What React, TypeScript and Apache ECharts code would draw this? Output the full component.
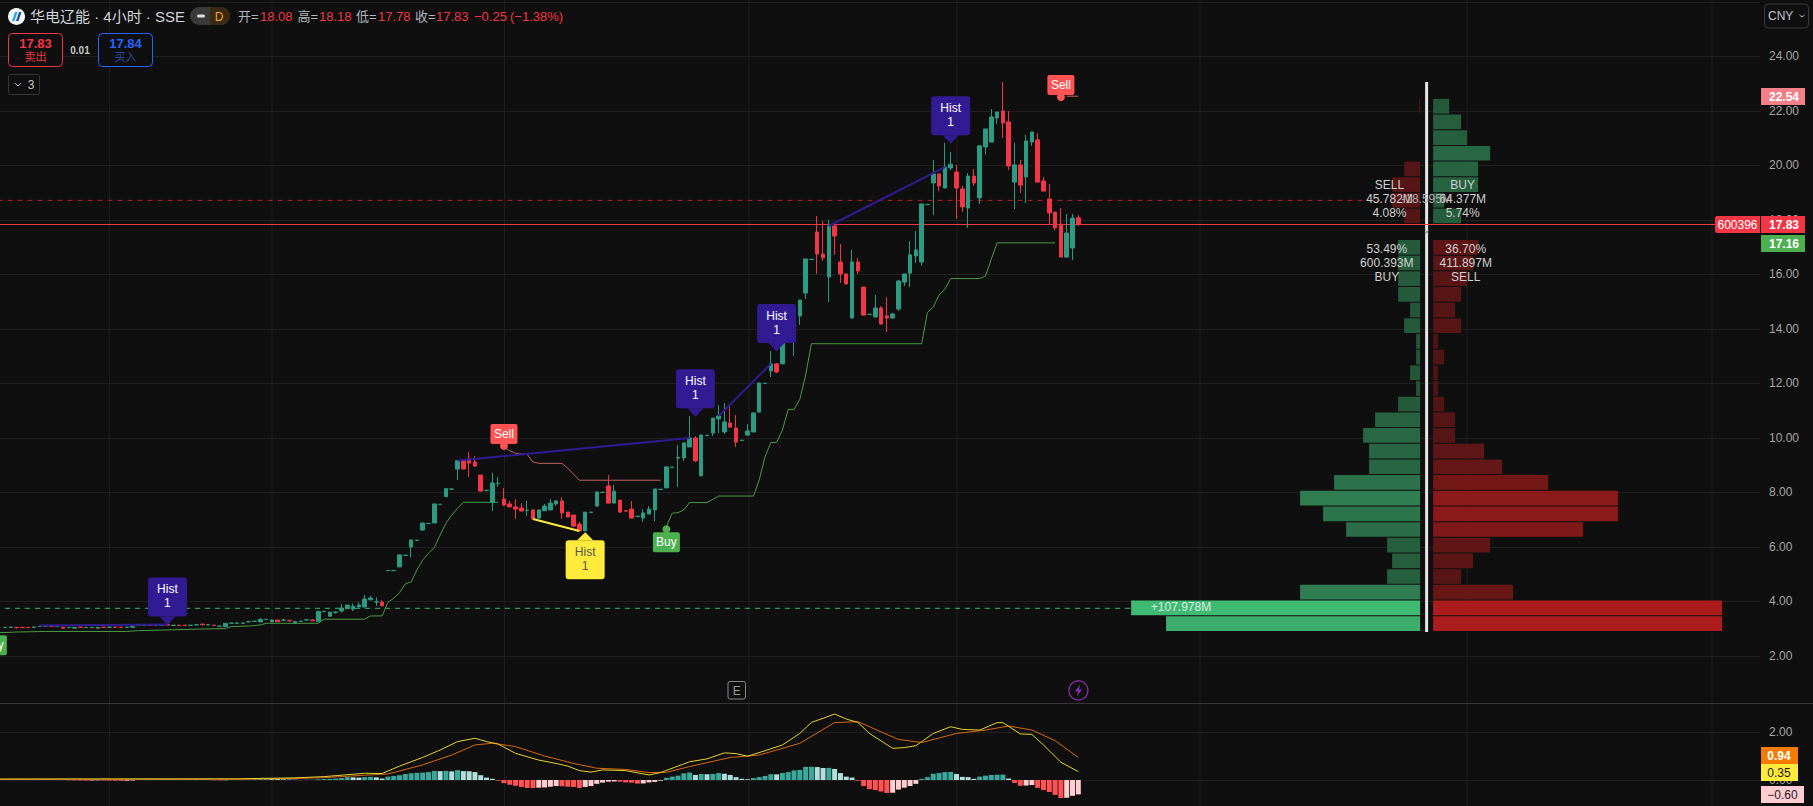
import React, { useEffect, useRef } from "react";
import * as echarts from "echarts";

// [open, close, low, high] (low / high default to the body)
const candleRows: (number | undefined)[][] = [
  [3.04,3.05,,3.06],[3.05,3.06,3.04,3.08],[3.05,3.04,3.00,3.06],[3.05,3.04],[3.05,3.04],[3.05,3.06,,3.09],[3.08,3.09],[3.09,3.10],[3.10,3.08],[3.08,3.09],
  [3.06,3.02],[3.04,3.05],[3.02,3.05],[3.06,3.05],[3.04,3.05],[3.04,3.05],[3.02,3.05],[3.06,3.05],[3.05,3.06,,3.08],[3.06,3.05],
  [3.06,3.05],[3.05,3.06],[3.05,3.09],[3.12,3.13],[3.12,3.13],[3.13,3.12],[3.13,3.14,,3.16],[3.13,3.14],[3.16,3.13],[3.12,3.13],
  [3.13,3.12],[3.13,3.12],[3.12,3.13,,3.14],[3.14,3.15,,3.17],[3.17,3.15,3.12,3.17],[3.14,3.15,,3.17],[3.13,3.12],[3.09,3.10],[3.08,3.20],[3.20,3.21],
  [3.20,3.21,,3.24],[3.20,3.21],[3.25,3.26,,3.29],[3.27,3.28],[3.25,3.35,,3.38],[3.34,3.35],[3.25,3.32,,3.34],[3.32,3.26],[3.31,3.32,3.29,3.37],[3.31,3.29,3.26,3.31],
  [3.21,3.26,3.19,3.30],[3.27,3.28],[3.32,3.33,,3.35],[3.32,3.29,,3.35],[3.27,3.64],[3.63,3.64],[3.46,3.61],[3.60,3.61,3.55,3.64],[3.65,3.76,3.59,3.91],[3.74,3.87],
  [3.72,3.83,3.65,3.93],[3.80,3.87,3.79,3.97],[3.80,4.09,3.79,4.24],[4.06,4.13,4.06,4.21],[3.98,3.99,3.84,4.15],[3.98,3.84,3.83,4.05],[5.13,5.14],[5.13,5.14],[5.27,5.71],[5.69,5.70],
  [6.00,6.26,5.61,6.26],[6.24,6.25],[6.62,6.88],[6.86,6.87],[6.88,7.58],[7.56,7.57],[7.85,8.14],[8.12,8.13],[8.86,9.17,8.46,9.17],[9.17,8.86],
  [9.23,9.08,8.57,9.49],[9.12,8.97,8.94,9.34],[8.64,8.05],[8.07,8.08],[7.63,8.35,7.32,8.72],[8.33,8.34,8.20,8.57],[7.76,7.54,7.50,8.17],[7.58,7.47,7.47,7.69],[7.47,7.39,7.03,7.76],[7.43,7.32,7.32,7.61],
  [7.34,7.35,7.14,7.69],[7.36,7.03],[7.06,7.36,7.03,7.36],[7.33,7.50,,7.58],[7.36,7.61,,7.76],[7.58,7.69,7.50,7.72],[7.69,7.25,7.03,7.83],[7.28,7.10],[7.17,6.77,6.73,7.17],[6.84,6.59,,6.92],
  [6.59,7.28],[7.27,7.28],[7.50,8.02],[8.00,8.01],[8.24,7.61,,8.64],[7.61,8.05,,8.28],[7.72,7.28,7.25,7.72],[7.33,7.32,7.28,7.36],[7.39,7.06,,7.69],[7.12,7.13],
  [7.06,7.25,6.92,7.39],[7.21,7.39,,7.50],[7.36,8.13,6.95,8.13],[8.11,8.12],[8.17,8.94],[8.92,8.93],[9.26,9.28,8.20,9.74],[9.27,9.82,9.16,9.82],[9.67,10.00,,10.81],[10.00,9.16,9.12,10.07],
  [8.61,10.11],[10.09,10.10],[10.18,10.73,10.07,10.73],[10.70,10.81,10.18,11.21],[10.22,10.59,10.15,11.28],[10.55,10.40,10.37,11.14],[10.37,9.85,9.67,10.84],[9.91,9.92],[10.11,10.26,10.07,10.51],[10.22,10.92],
  [10.95,12.02],[12.00,12.01],[12.46,12.72,12.24,13.19],[12.72,12.42,12.39,12.75],[12.72,13.67],[13.65,13.66],[13.93,14.55,13.01,14.88],[14.48,15.06,14.15,15.06],[15.32,16.57,15.10,16.57],[16.55,16.56],
  [17.56,16.75,16.02,18.15],[16.75,16.61,16.50,17.96],[15.91,17.78,14.99,18.00],[17.78,17.41,16.72,17.82],[16.46,16.02,15.69,17.12],[16.02,15.65],[14.40,16.46,,16.90],[16.46,16.13,16.02,16.61],[15.54,14.51],[14.53,14.54],
  [14.44,14.77,,15.25],[14.77,14.18,,14.84],[14.48,14.40,13.89,15.17],[14.40,14.55,,14.59],[14.73,15.76,14.66,15.80],[15.72,16.02,15.58,16.02],[16.05,16.72,15.54,17.23],[16.68,16.90,16.42,17.60],[16.46,18.59,16.32,18.59],[18.56,18.57],
  [19.36,19.69,18.18,20.20],[19.69,19.25,19.06,19.69],[19.17,19.94,,20.83],[19.91,20.05,19.83,20.50],[19.76,19.17,18.04,20.02],[19.14,18.48,18.29,19.25],[18.44,19.61,17.71,19.72],[19.61,19.36,19.25,19.87],[18.81,20.72,18.59,20.72],[20.68,21.34,20.40,21.34],
  [20.86,21.78,,22.07],[21.74,21.96,21.52,21.96],[22.00,21.56,21.01,23.06],[21.60,19.98,19.83,22.00],[19.39,20.02,18.40,20.83],[20.02,19.28,18.99,20.20],[19.58,20.90,18.62,21.12],[20.86,21.23,20.72,21.23],[20.94,19.39,,21.19],[19.43,19.06,,19.58],
  [18.77,18.26,17.82,19.32],[18.29,17.71,17.63,18.29],[17.85,16.64,,18.44],[16.64,17.52,16.61,18.22],[16.97,18.07,16.53,18.22],[18.08,17.83,17.78,18.18],
];

// [candle index, price]
const supportA = [[-3,2.85],[0,2.86],[2,2.88],[7,2.90],[21,2.90],[23,2.93],[27,2.95],[32,2.98],[38,3.01],[39,3.08],[42,3.10],[44,3.14],[45,3.20],[54,3.20],[55,3.35],[62,3.35],[63,3.47],[65,3.47],[66,3.97],[67,4.12],[68,4.32],[69,4.65],[70,4.72],[71,5.16],[72,5.52],[73,5.77],[74,5.98],[75,6.44],[76,6.87],[77,7.17],[78,7.42],[79,7.64],[85,7.64]];
const resistance = [[86,9.66],[87,9.53],[88,9.44],[89,9.41],[90,9.40],[91,9.12],[92,9.07],[96,9.07],[97,8.89],[98,8.67],[99,8.45],[113,8.45]];
const supportB = [[114,6.75],[115,7.24],[116,7.26],[117,7.36],[118,7.63],[121,7.63],[122,7.75],[123,7.87],[129,7.87],[130,8.46],[131,9.31],[132,9.83],[133,9.84],[134,10.29],[135,11.05],[136,11.05],[137,11.42],[138,12.31],[139,13.46],[158,13.46],[159,14.61],[160,14.81],[161,15.25],[162,15.46],[163,15.85],[168,15.85],[169,15.94],[170,16.56],[171,17.16],[181,17.16]];
const resistanceEnd = [[183,22.54],[185,22.54]];

const divergenceBlue = [
  [[6,3.12],[28,3.16]],
  [[78,9.17],[118,10.00]],
  [[123,10.81],[132,12.72]],
  [[142,17.78],[162,19.94]],
];
const divergenceYellow = [[91,7.03],[99,6.59]];

const greenDashed = [[0,3.75],[194,3.75]];
const redDashed = [[-3,18.72],[237,18.72]];
const lastPrice = 17.83;

const macdHist = [
  .01,.02,.015,.01,.008,.015,.02,.018,.015,.012,.01,-.01,-.015,-.02,-.025,-.02,-.015,-.02,-.025,-.03,
  -.035,-.03,-.02,.01,.02,.015,.012,.02,.018,.015,.012,.01,.02,.018,.015,.012,-.01,-.015,-.01,.005,
  .01,.015,.02,.03,.04,.06,.05,.04,.03,.02,.015,-.01,.01,.005,.03,.04,.05,.06,.08,.12,
  .11,.10,.12,.13,.11,.06,.14,.17,.20,.25,.28,.30,.31,.33,.38,.37,.38,.36,.41,.37,
  .365,.33,.20,.10,.05,-.03,-.13,-.20,-.24,-.29,-.33,-.335,-.32,-.31,-.28,-.25,-.26,-.28,-.29,-.33,
  -.29,-.25,-.16,-.11,-.07,-.06,-.07,-.10,-.11,-.15,-.145,-.10,-.08,-.03,.09,.14,.18,.28,.31,.21,
  .25,.24,.25,.29,.26,.21,.12,.05,.03,.08,.12,.17,.24,.235,.29,.33,.40,.42,.55,.551,
  .54,.50,.505,.46,.29,.14,.10,-.03,-.25,-.38,-.42,-.48,-.54,-.53,-.40,-.32,-.25,-.16,.05,.12,
  .26,.29,.33,.335,.25,.13,.12,.05,.14,.18,.21,.22,.225,.06,-.12,-.24,-.23,-.21,-.33,-.42,
  -.50,-.62,-.75,-.74,-.66,-.60,
];
const macdLine = [[-3,.04],[40,.05],[50,.09],[55,.14],[62,.28],[65,.27],[68,.58],[72,.94],[75,1.25],[78,1.6],[81,1.74],[83,1.6],[85,1.5],[88,1.11],[92,.83],[95,.69],[97,.58],[99,.39],[101,.33],[103,.42],[107,.39],[111,.21],[113,.31],[118,.76],[121,.88],[124,1.13],[126,1.10],[128,.99],[131,1.22],[134,1.46],[137,1.94],[139,2.40],[141,2.57],[143,2.75],[145,2.54],[147,2.40],[149,1.94],[153,1.32],[155,1.35],[157,1.43],[160,1.94],[163,2.22],[165,2.11],[168,2.08],[171,2.39],[172,2.39],[175,1.92],[177,1.90],[179,1.46],[182,.74],[185,.35]];
const signalLine = [[-3,.03],[40,.03],[50,.06],[55,.1],[62,.2],[66,.25],[72,.63],[77,1.04],[81,1.46],[84,1.53],[88,1.39],[93,1.0],[98,.69],[102,.49],[107,.44],[111,.31],[114,.32],[118,.56],[125,.94],[130,1.04],[137,1.53],[143,2.39],[147,2.43],[154,1.69],[158,1.56],[164,1.94],[169,2.08],[173,2.25],[177,2.08],[181,1.64],[185,.94]];

// volume-profile rows from the lowest price upward (relative volume)
const profileLeft = [254,289,120,33,28,33,74,97,120,86,51,51,57,45,22,4,10,4,4,16,10,22,22,22,22,0,16,28,28,16,0,0,0,1];
const profileRight = [289,289,80,28,40,57,150,185,185,115,69,51,22,22,11,5,5,11,5,28,22,28,34,40,45,0,28,11,45,45,57,34,28,16];
const profileBase = 2.885;
const profileBin = 0.5753;
const profileFlipRow = 25;
const profileTop = 23.06;

const markerIndex = [28,119,133,163,100,86,182,114,-2];
const markerPrice = [3.14,10.78,13.17,20.80,6.54,9.71,22.51,6.65,2.87];
const markerKind = ["hist","hist","hist","hist","histUp","sell","sell","buy","buy"];

const priceTicks = [2,4,6,8,10,12,14,16,18,20,22,24];
const priceLines = [...priceTicks, 26];
const macdTicks = [0,2];
const verticalGrid = [109.5,272,504.5,749,957,1200,1467,1712];

const BG = "#0f0f0f";
const UP = "#2d9b83";
const DOWN = "#f23645";
const LEAD = 3;
const CATS = 306;
const FONT = "'Liberation Sans'";
const CJK = "'Liberation Sans','Noto Sans CJK SC'";

const shift = (pts: number[][]) => pts.map(([i, v]) => [i + LEAD, v]);

function mix(rgb: number[], a: number) {
  const bg = [15, 15, 15];
  return `rgb(${rgb.map((c, k) => Math.round(c * a + bg[k] * (1 - a))).join(",")})`;
}

function txt(x: number, y: number, text: string, fill: string, fontSize = 12, extra: any = {}) {
  const { align = "left", fontWeight = "normal", fontFamily = FONT, z = 60 } = extra;
  return {
    type: "text", x, y, z, silent: true,
    style: { text, fill, fontSize, fontFamily, fontWeight, align, verticalAlign: "middle", textAlign: align, textVerticalAlign: "middle" },
  };
}
function box(x: number, y: number, width: number, height: number, fill: string, stroke = "none", r: any = 0, z = 55) {
  return { type: "rect", z, silent: true, shape: { x, y, width, height, r }, style: { fill, stroke, lineWidth: stroke === "none" ? 0 : 1 } };
}

function buildGraphic() {
  const out: any[] = [];
  verticalGrid.forEach((x) => out.push({ type: "line", z: 0, silent: true, shape: { x1: x, y1: 0, x2: x, y2: 806 }, style: { stroke: "#1e1e1e", lineWidth: 1 } }));
  out.push({ type: "line", z: 1, silent: true, shape: { x1: 0, y1: 703.5, x2: 1813, y2: 703.5 }, style: { stroke: "#363636", lineWidth: 1 } });

  // header
  out.push({ type: "circle", z: 55, silent: true, shape: { cx: 16.5, cy: 16.5, r: 8.5 }, style: { fill: "#f4f6f8" } });
  out.push({ type: "polygon", z: 56, silent: true, shape: { points: [[12,21],[14.5,21],[17.5,12],[15,12]] }, style: { fill: "#2aa7e0" } });
  out.push({ type: "polygon", z: 56, silent: true, shape: { points: [[16,21],[18.5,21],[21.5,12],[19,12]] }, style: { fill: "#1c4fa8" } });
  out.push(txt(30, 16.5, "华电辽能 · 4小时 · SSE", "#d1d4dc", 15, { fontFamily: CJK }));
  out.push(box(190, 7, 40, 18, "#3a3a3a", "none", 9));
  out.push({ type: "rect", z: 56, silent: true, shape: { x: 210, y: 7, width: 20, height: 18, r: [0, 9, 9, 0] }, style: { fill: "#3a2a12" } });
  out.push(box(197, 14.5, 8, 3, "#e0e0e0", "none", 1.5, 57));
  out.push(txt(219, 16.5, "D", "#f5a623", 12, { align: "center" }));
  const grey = "#b2b5be";
  const red = DOWN;
  out.push(txt(238, 16.5, "开=", grey, 13, { fontFamily: CJK }));
  out.push(txt(260, 16.5, "18.08", red, 13));
  out.push(txt(297.5, 16.5, "高=", grey, 13, { fontFamily: CJK }));
  out.push(txt(319, 16.5, "18.18", red, 13));
  out.push(txt(356, 16.5, "低=", grey, 13, { fontFamily: CJK }));
  out.push(txt(378, 16.5, "17.78", red, 13));
  out.push(txt(415, 16.5, "收=", grey, 13, { fontFamily: CJK }));
  out.push(txt(436, 16.5, "17.83", red, 13));
  out.push(txt(474, 16.5, "−0.25", red, 13));
  out.push(txt(510, 16.5, "(−1.38%)", red, 13));

  out.push(box(8.5, 33.5, 54, 33, BG, DOWN, 4));
  out.push(txt(35.5, 43, "17.83", DOWN, 13, { align: "center", fontWeight: "bold" }));
  out.push(txt(35.5, 57, "卖出", DOWN, 11, { align: "center", fontFamily: CJK }));
  out.push(txt(80, 50, "0.01", "#c8c8c8", 10, { align: "center", fontWeight: "bold" }));
  out.push(box(98.5, 33.5, 54, 33, BG, "#2962ff", 4));
  out.push(txt(125.5, 43, "17.84", "#2962ff", 13, { align: "center", fontWeight: "bold" }));
  out.push(txt(125.5, 57, "买入", "#2d4da8", 11, { align: "center", fontFamily: CJK }));
  out.push(box(8.5, 74.5, 31, 20, BG, "#363636", 2));
  out.push({ type: "polyline", z: 56, silent: true, shape: { points: [[15, 83],[18, 86],[21, 83]] }, style: { stroke: "#b2b5be", lineWidth: 1, fill: "none" } });
  out.push(txt(31, 84.5, "3", "#c8c8c8", 12, { align: "center" }));

  // currency button
  out.push(box(1764.5, 4, 44, 24, BG, "#3a3a3a", 4));
  out.push(txt(1768, 16, "CNY", "#c0c4cc", 12));
  out.push({ type: "polyline", z: 56, silent: true, shape: { points: [[1799.5, 15],[1802, 17],[1804.5, 15]] }, style: { stroke: "#b2b5be", lineWidth: 1, fill: "none" } });

  // volume profile texts
  const pt = "#d0d0d0";
  out.push(txt(1389.5, 185, "SELL", pt, 12, { align: "center" }));
  out.push(txt(1389.5, 199, "45.782M", pt, 12, { align: "center" }));
  out.push(txt(1389.5, 213, "4.08%", pt, 12, { align: "center" }));
  out.push(txt(1462.7, 185, "BUY", pt, 12, { align: "center" }));
  out.push(txt(1462.7, 199, "64.377M", pt, 12, { align: "center" }));
  out.push(txt(1462.7, 213, "5.74%", pt, 12, { align: "center" }));
  out.push(txt(1426.6, 199, "-18.595M", "#b0b0b0", 12, { align: "center" }));
  out.push(txt(1426.6, 232, "×", "#8a8a8a", 9, { align: "center" }));
  out.push(txt(1386.8, 249, "53.49%", pt, 12, { align: "center" }));
  out.push(txt(1386.8, 263, "600.393M", pt, 12, { align: "center" }));
  out.push(txt(1386.8, 277, "BUY", pt, 12, { align: "center" }));
  out.push(txt(1465.7, 249, "36.70%", pt, 12, { align: "center" }));
  out.push(txt(1465.7, 263, "411.897M", pt, 12, { align: "center" }));
  out.push(txt(1465.7, 277, "SELL", pt, 12, { align: "center" }));
  out.push(txt(1181, 607, "+107.978M", "#d8efe0", 12, { align: "center" }));

  // last-value tags on the scales
  const tag = (x: number, y: number, w: number, h: number, bg: string, label: string, fg: string, cx: number, weight = "bold", r: any = 0) => {
    out.push(box(x, y, w, h, bg, "none", r, 70));
    out.push(txt(cx, y + h / 2 + 0.5, label, fg, 12, { align: "center", fontWeight: weight, z: 71 }));
  };
  tag(1761, 88, 44, 17, "#f28088", "22.54", "#ffffff", 1784);
  tag(1761, 216, 44, 17, DOWN, "17.83", "#ffffff", 1784);
  tag(1715, 216, 45, 17, DOWN, "600396", "#ffffff", 1737.5, "normal", [2, 0, 0, 2]);
  tag(1761, 235, 44, 17, "#4caf50", "17.16", "#ffffff", 1784);
  tag(1761, 747, 37, 17, "#f57c00", "0.94", "#ffffff", 1779);
  tag(1761, 764, 37, 17, "#ffeb3b", "0.35", "#1a1a1a", 1779, "normal");
  tag(1761, 786, 43, 17, "#ffcdd2", "−0.60", "#1a1a1a", 1782.5, "normal");

  // E and flash buttons
  out.push(box(728, 681.5, 17.5, 17.5, BG, "#8a8a8a", 2));
  out.push(txt(736.7, 690.5, "E", "#9a9a9a", 12, { align: "center" }));
  out.push({ type: "circle", z: 55, silent: true, shape: { cx: 1078.4, cy: 690.5, r: 9.5 }, style: { fill: BG, stroke: "#8e2fb0", lineWidth: 1.2 } });
  out.push({ type: "polygon", z: 56, silent: true, shape: { points: [[1080,684.5],[1075,691.5],[1078,691.5],[1076.8,696.5],[1082,689.5],[1079,689.5]] }, style: { fill: "#8e2fb0" } });
  return out;
}

function renderMarker(params: any, api: any) {
  const k = params.dataIndex;
  const [x, y] = api.coord([markerIndex[k] + LEAD, markerPrice[k]]);
  const kind = markerKind[k];
  const ts = (t: string, ty: number, fill: string) => ({ type: "text", style: { text: t, x, y: ty, fill, fontSize: 12, fontFamily: FONT, align: "center", verticalAlign: "middle" } });
  if (kind === "hist" || kind === "histUp") {
    const up = kind === "histUp";
    const fill = up ? "#ffeb3b" : "#311b92";
    const fg = up ? "#555555" : "#ffffff";
    const top = up ? y + 8 : y - 47.5;
    return { type: "group", children: [
      { type: "rect", shape: { x: x - 19.5, y: top, width: 39, height: 39, r: 3 }, style: { fill } },
      { type: "polygon", shape: { points: up ? [[x, y],[x - 8, y + 8],[x + 8, y + 8]] : [[x, y],[x - 8, y - 8.5],[x + 8, y - 8.5]] }, style: { fill } },
      ts("Hist", top + 12, fg), ts("1", top + 26, fg),
    ] };
  }
  const sell = kind === "sell";
  const fill = sell ? "#ff5252" : "#4caf50";
  const top = sell ? y - 22 : y + 3;
  return { type: "group", children: [
    { type: "circle", shape: { cx: x, cy: y, r: 4 }, style: { fill } },
    { type: "rect", shape: { x: x - 13.5, y: top, width: 27, height: 20, r: 2 }, style: { fill } },
    ts(sell ? "Sell" : "Buy", top + 10, "#ffffff"),
  ] };
}

function renderProfile(params: any, api: any) {
  const k = params.dataIndex;
  const gap = 6.5;
  const low = profileBase + k * profileBin;
  const high = low + profileBin;
  const flipped = k >= profileFlipRow;
  const green = [64, 185, 115];
  const red = [173, 28, 28];
  const shade = (c: number[], v: number) => mix(c, 0.4 + 0.6 * v / 289);
  const rectFor = (sign: number, v: number, c: number[]) => {
    const a = api.coord([sign * gap, high]);
    const b = api.coord([sign * (gap + v), low]);
    return { type: "rect", shape: { x: Math.min(a[0], b[0]), y: a[1], width: Math.abs(b[0] - a[0]), height: b[1] - a[1] - 1 }, style: { fill: shade(c, v) } };
  };
  return { type: "group", children: [
    rectFor(-1, profileLeft[k], flipped ? red : green),
    rectFor(1, profileRight[k], flipped ? green : red),
  ] };
}

const thin = (data: number[][], color: string, width = 1, type: any = "solid", z = 3) => ({
  type: "line", xAxisIndex: 0, yAxisIndex: 0, data: shift(data), showSymbol: false, symbol: "none", silent: true, z,
  lineStyle: { color, width, type },
});

export default function App() {
  const ref = useRef<HTMLDivElement>(null);
  useEffect(() => {
    document.body.style.margin = "0";
    document.body.style.background = BG;
    const chart = echarts.init(ref.current as HTMLDivElement, undefined, { renderer: "svg" });
    const cats = Array.from({ length: CATS }, (_, i) => String(i));
    const leadBlank = Array.from({ length: LEAD }, () => [NaN, NaN, NaN, NaN]);
    const candles = candleRows.map((r) => {
      const o = r[0] as number, c = r[1] as number;
      return [o, c, r[2] ?? Math.min(o, c), r[3] ?? Math.max(o, c)];
    });
    const option: any = {
      animation: false,
      backgroundColor: BG,
      graphic: { elements: buildGraphic() },
      grid: [
        { left: -15.3, top: 0, width: 1775.3, height: 703, outerBoundsMode: "none", containLabel: false },
        { left: -15.3, top: 703, width: 1775.3, height: 103, outerBoundsMode: "none", containLabel: false },
      ],
      xAxis: [
        { type: "category", gridIndex: 0, data: cats, show: false },
        { type: "value", gridIndex: 0, min: -1441.9, max: 333.4, show: false, splitLine: { show: false } },
        { type: "category", gridIndex: 1, data: cats, show: false },
      ],
      yAxis: [
        {
          type: "value", gridIndex: 0, position: "right", min: 0.275, max: 26.073, scale: true,
          axisLine: { show: false },
          axisTick: { show: false, customValues: priceLines },
          axisLabel: { customValues: priceTicks, color: "#a6a6a6", fontSize: 12, fontFamily: FONT, margin: 9, formatter: (v: number) => v.toFixed(2) },
          splitLine: { show: true, lineStyle: { color: "#202020", width: 1 } },
        },
        {
          type: "value", gridIndex: 1, position: "right", min: -1.0833, max: 3.2083, scale: true,
          axisLine: { show: false },
          axisTick: { show: false, customValues: macdTicks },
          axisLabel: { customValues: macdTicks, color: "#a6a6a6", fontSize: 12, fontFamily: FONT, margin: 9, formatter: (v: number) => v.toFixed(2) },
          splitLine: { show: true, lineStyle: { color: "#202020", width: 1 } },
        },
      ],
      series: [
        thin(greenDashed, "#2fbf78", 1, [5, 5], 2),
        thin(redDashed, "#b81f2a", 1, [5, 5], 2),
        {
          type: "custom", xAxisIndex: 1, yAxisIndex: 0, silent: true, z: 3,
          data: profileLeft.map((v, k) => [v, profileBase + k * profileBin, profileRight[k]]),
          renderItem: renderProfile,
          clip: false,
        },
        {
          type: "line", xAxisIndex: 1, yAxisIndex: 0, symbol: "none", showSymbol: false, silent: true, z: 4,
          data: [[0, profileBase], [0, profileTop]],
          lineStyle: { color: "#e4e4e4", width: 3 },
        },
        thin(supportA, "#4a9a46"),
        thin(resistance, "#bd6464"),
        thin(resistanceEnd, "#8a4a4a", 1.5),
        thin(supportB, "#4a9a46"),
        {
          type: "candlestick", xAxisIndex: 0, yAxisIndex: 0, z: 5, silent: true,
          data: [...leadBlank, ...candles],
          barWidth: 4,
          itemStyle: { color: UP, color0: DOWN, borderColor: UP, borderColor0: DOWN, borderWidth: 1 },
          markLine: {
            silent: true, symbol: "none", animation: false,
            label: { show: false },
            lineStyle: { color: DOWN, width: 1, type: "solid" },
            data: [{ yAxis: lastPrice }],
          },
        },
        ...divergenceBlue.map((d) => thin(d, "#311b92", 2, "solid", 6)),
        thin(divergenceYellow, "#ffeb3b", 2, "solid", 6),
        {
          type: "custom", xAxisIndex: 0, yAxisIndex: 0, silent: true, z: 7, clip: false,
          data: markerIndex.map((i, k) => [i + LEAD, markerPrice[k]]),
          renderItem: renderMarker,
        },
        {
          type: "bar", xAxisIndex: 2, yAxisIndex: 1, silent: true, barWidth: 5, z: 3,
          data: [...Array(LEAD).fill(null), ...macdHist],
          itemStyle: {
            color: (p: any) => {
              const i = p.dataIndex - LEAD;
              const v = macdHist[i];
              const prev = i > 0 ? macdHist[i - 1] : 0;
              if (v >= 0) return v >= prev ? "#3aa89a" : "#b2dfdb";
              return v < prev ? "#ff5252" : "#ffcdd2";
            },
          },
        },
        {
          type: "line", xAxisIndex: 2, yAxisIndex: 1, symbol: "none", showSymbol: false, silent: true, z: 4,
          data: shift(signalLine), lineStyle: { color: "#d9680f", width: 1 },
        },
        {
          type: "line", xAxisIndex: 2, yAxisIndex: 1, symbol: "none", showSymbol: false, silent: true, z: 5,
          data: shift(macdLine), lineStyle: { color: "#e6d32e", width: 1 },
        },
      ],
    };
    chart.setOption(option);
    return () => chart.dispose();
  }, []);
  return <div ref={ref} style={{ position: "fixed", left: 0, top: 0, width: 1813, height: 806 }} />;
}
